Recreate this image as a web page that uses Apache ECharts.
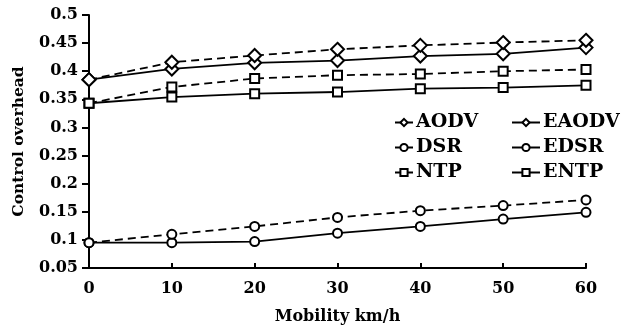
<!DOCTYPE html>
<html><head><meta charset="utf-8">
<script src="https://cdn.jsdelivr.net/npm/echarts@6/dist/echarts.min.js"></script>
<style>html,body{margin:0;padding:0;background:#fff}#c{width:623px;height:331px}</style>
</head><body><div id="c"></div>
<script>
var xValues = [0, 10, 20, 30, 40, 50, 60];
var AODV  = [0.385, 0.416, 0.428, 0.439, 0.446, 0.451, 0.455];
var EAODV = [0.385, 0.404, 0.415, 0.419, 0.427, 0.431, 0.442];
var DSR   = [0.095, 0.110, 0.124, 0.140, 0.152, 0.161, 0.171];
var EDSR  = [0.095, 0.095, 0.097, 0.112, 0.124, 0.137, 0.149];
var NTP   = [0.343, 0.372, 0.387, 0.393, 0.395, 0.400, 0.403];
var ENTP  = [0.343, 0.354, 0.360, 0.363, 0.369, 0.371, 0.375];
var seriesNames = ['AODV','EAODV','DSR','EDSR','NTP','ENTP'];
var xName = 'Mobility km/h';
var yName = 'Control overhead';

var FONT = 'DejaVu Serif';
function pairs(arr){ return arr.map(function(v,i){ return [xValues[i], v]; }); }
function mk(name, data, dashed, symbol, size){
  return {
    name: name, type: 'line', data: pairs(data),
    symbol: symbol, symbolSize: size, showSymbol: true,
    lineStyle: {color: '#000', width: 1.8, type: dashed ? [8,5] : 'solid'},
    itemStyle: {color: '#fff', borderColor: '#000', borderWidth: 2},
    z: dashed ? 3 : 2, animation: false
  };
}
var chart = echarts.init(document.getElementById('c'), null, {renderer: 'canvas'});
var legendText = {fontFamily: FONT, fontWeight: 'bold', fontSize: 19, color: '#000', padding: [0,0,0,-2]};
chart.setOption({
  backgroundColor: '#fff',
  animation: false,
  grid: {left: 89, right: 37, top: 15, bottom: 63, containLabel: false},
  legend: [
    {orient: 'vertical', left: 389, top: 108, itemGap: 6, itemWidth: 18, itemHeight: 9,
     data: [seriesNames[0], seriesNames[2], seriesNames[4]], textStyle: legendText, selectedMode: false},
    {orient: 'vertical', left: 506, top: 108, itemGap: 6, itemWidth: 28, itemHeight: 9,
     data: [seriesNames[1], seriesNames[3], seriesNames[5]], textStyle: legendText, selectedMode: false}
  ],
  xAxis: {
    type: 'value', min: 0, max: 60, interval: 10,
    name: xName, nameLocation: 'middle', nameGap: 41,
    nameTextStyle: {fontFamily: FONT, fontWeight: 'bold', fontSize: 16, color: '#000'},
    axisLine: {lineStyle: {color: '#000', width: 2}},
    axisTick: {inside: true, length: 5, lineStyle: {color: '#000', width: 2}},
    axisLabel: {margin: 13, fontFamily: FONT, fontWeight: 'bold', fontSize: 16, color: '#000'},
    splitLine: {show: false}
  },
  yAxis: {
    type: 'value', min: 0.05, max: 0.5, interval: 0.05,
    name: yName, nameLocation: 'middle', nameGap: 62,
    nameTextStyle: {fontFamily: FONT, fontWeight: 'bold', fontSize: 15.5, color: '#000'},
    axisLine: {show: true, lineStyle: {color: '#000', width: 2}},
    axisTick: {show: true, inside: false, length: 7, lineStyle: {color: '#000', width: 2}},
    axisLabel: {margin: 11, fontFamily: FONT, fontWeight: 'bold', fontSize: 16, color: '#000',
      formatter: function(v){ return String(parseFloat(v.toFixed(2))); }},
    splitLine: {show: false}
  },
  series: [
    mk('AODV', AODV, true, 'diamond', 13),
    mk('EAODV', EAODV, false, 'diamond', 13),
    mk('DSR', DSR, true, 'circle', 9),
    mk('EDSR', EDSR, false, 'circle', 9),
    mk('NTP', NTP, true, 'rect', 9),
    mk('ENTP', ENTP, false, 'rect', 9)
  ]
});
</script></body></html>
